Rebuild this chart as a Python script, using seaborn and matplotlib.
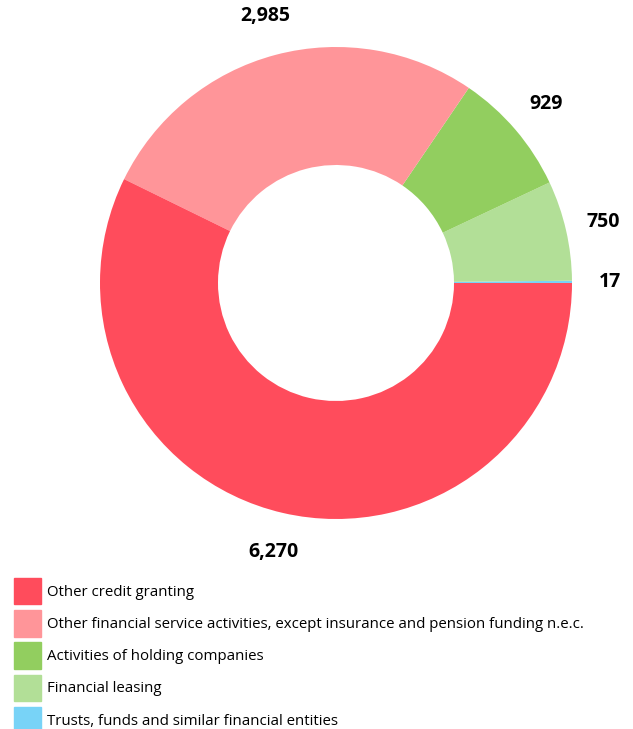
import matplotlib
matplotlib.use("Agg")
import matplotlib.pyplot as plt
import matplotlib.patches as mpatches
import numpy as np
import seaborn as sns

# Data (counter-clockwise from 3 o'clock)
categories = ["Trusts, funds and similar financial entities",
              "Financial leasing",
              "Activities of holding companies",
              "Other financial service activities, except insurance and pension funding n.e.c.",
              "Other credit granting"]
values = [17, 750, 929, 2985, 6270]
value_labels = ["17", "750", "929", "2,985", "6,270"]
colors = ["#78D3F7", "#B2DF97", "#92CE5F", "#FF9599", "#FF4C5C"]
label_dist = [1.16, 1.16, 1.17, 1.17, 1.17]

sns.set_theme(style="white")
plt.rcParams['font.family'] = ['Open Sans', 'DejaVu Sans']
palette = sns.color_palette(colors)

fig = plt.figure(figsize=(6.33, 7.29), dpi=100)
ax = fig.add_axes([100/633, 1-519/729, 472/633, 472/729])
wedges, _ = ax.pie(values, colors=palette, startangle=0, counterclock=True,
                   radius=1.0, wedgeprops=dict(width=0.5, linewidth=0))
ax.set_xlim(-1, 1)
ax.set_ylim(-1, 1)
ax.set_aspect('equal')
ax.axis('off')

# value labels placed at wedge mid angles
total = float(sum(values))
start = 0.0
for v, lab, d in zip(values, value_labels, label_dist):
    mid = np.deg2rad(start + v / total * 360 / 2)
    start += v / total * 360
    ax.text(d * np.cos(mid), d * np.sin(mid), lab, ha='center', va='center',
            fontsize=14, fontweight='bold', color='black')

# legend in display order
handles = [mpatches.Patch(color=c, label=l) for c, l in zip(palette, categories)][::-1]
fig.legend(handles=handles, loc='upper left', bbox_to_anchor=(14/633, 1-578/729),
           frameon=False, fontsize=10.8, handlelength=1.8, handleheight=2.34,
           labelspacing=0.38, handletextpad=0.4, borderpad=0, borderaxespad=0,
           labelcolor='black')

plt.savefig("out.png", dpi=100)
plt.close('all')
